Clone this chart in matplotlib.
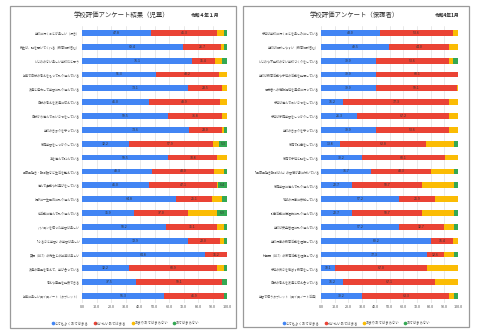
import matplotlib
matplotlib.use("Agg")
import matplotlib.pyplot as plt
from matplotlib.patches import Rectangle
from matplotlib.lines import Line2D

plt.rcParams['font.family'] = ['Noto Sans CJK JP', 'DejaVu Sans']

# ---- 児童 ----
items_child = [
    "学校に行くことが楽しい（好き）",
    "先生は、話を聞いてくれる（教育相談含む）",
    "いじめのない楽しい学校だと思う",
    "授業で自分の考えをもって取り組んでいる",
    "友達と協力して学習に取り組んでいる",
    "自分の考えを友達に伝えている",
    "自分から進んであいさつをしている",
    "学校のきまりを守っている",
    "家庭学習をしっかりしている",
    "本を進んで読んでいる",
    "早寝早起き・朝ご飯など生活を整えている",
    "進んで運動や外遊びをしている",
    "掃除に一生懸命に取り組んでいる",
    "係活動に進んで取り組んでいる",
    "パソコンを使った学習は楽しい",
    "「ふるさと学習」の学習は楽しい",
    "英語（ALT）の先生との授業は楽しい",
    "友達の意見を考えて、学び合っている",
    "考えや意見を発表できる",
    "授業に楽しいロイロノート（タブレット）",
]
child_very = [47.8, 69.4, 76.1, 51.3, 73.1, 46.0, 59.5, 73.6, 32.2, 59.5,
              48.3, 46.0, 64.8, 35.9, 58.2, 72.9, 84.8, 32.2, 37.5, 56.3]
child_mostly = [45.3, 26.7, 15.4, 43.2, 23.5, 48.9, 36.8, 23.0, 57.9, 33.8,
                43.0, 47.1, 25.1, 37.0, 35.1, 22.0, 15.2, 60.9, 59.1, 41.9]
child_little = [5.1, 1.6, 5.1, 5.5, 3.4, 5.1, 3.7, 1.1, 4.6, 6.7,
                6.6, 0.5, 6.7, 20.2, 4.9, 3.3, 0.0, 4.6, 0.0, 0.0]
child_no = [1.8, 2.3, 3.4, 0.0, 0.0, 0.0, 0.0, 2.3, 5.3, 0.0,
            2.1, 6.4, 3.4, 6.9, 1.8, 1.8, 0.0, 2.3, 3.4, 1.8]

# ---- 保護者 ----
items_parent = [
    "子供は学校に行くことを楽しみにしている",
    "学校は相談しやすい（教育相談含む）",
    "いじめや不登校のない学校づくりをしている",
    "学校は教育活動や子供の活動を発信している",
    "保護者への情報提供を適切に行っている",
    "子供は進んであいさつをしている",
    "子供は家庭学習をしっかりしている",
    "学校のきまりを守っている",
    "家庭で読書をしている",
    "家庭で子供と話をしている",
    "「早寝早起き朝ごはん」の習慣が身に付いている",
    "家庭学習に進んで取り組んでいる",
    "地域の行事に参加している",
    "読書活動に積極的に取り組んでいる",
    "学校は安全管理に取り組んでいる",
    "学校行事の教育活動を理解している",
    "外国語（ALT）の教育活動を理解している",
    "子供の良さを伸ばす教育をしている",
    "自分の考えを友達と伝え合っている",
    "学習で使うタブレット（ロイロノート活用）",
]
parent_very = [43.0, 49.5, 39.9, 39.9, 39.9, 16.2, 26.3, 39.9, 13.8, 30.2,
               36.7, 22.7, 57.2, 22.7, 57.2, 80.2, 77.3, 10.1, 16.2, 30.2]
parent_mostly = [53.6, 44.0, 53.6, 60.1, 59.1, 77.3, 67.2, 53.6, 62.8, 60.1,
                 43.3, 50.7, 25.9, 50.7, 32.7, 16.4, 12.6, 67.0, 67.1, 63.3]
parent_little = [3.4, 6.5, 3.1, 0.0, 1.0, 6.5, 6.5, 6.5, 20.5, 9.7,
                 17.1, 23.7, 16.9, 23.7, 7.2, 3.4, 7.2, 22.9, 16.7, 3.6]
parent_no = [0.0, 0.0, 3.4, 0.0, 0.0, 0.0, 0.0, 0.0, 2.9, 0.0,
             2.9, 2.9, 0.0, 2.9, 2.9, 0.0, 2.9, 0.0, 0.0, 2.9]

legend_labels = ["とてもよくあてはまる", "だいたいあてはまる", "あまりあてはまらない", "あてはまらない"]
colors = ["#4285F4", "#EA4335", "#FBBC04", "#34A853"]
x_ticks = [0, 10, 20, 30, 40, 50, 60, 70, 80, 90, 100]

W, H = 480, 334
fig = plt.figure(figsize=(W / 100, H / 100), dpi=100)
fig.patch.set_facecolor("white")


def draw_panel(rect, items, series, title, date, title_x, date_x, legend_x):
    ax = fig.add_axes(rect)
    n = len(items)
    ypos = list(range(n))
    left = [0.0] * n
    for k, (vals, col) in enumerate(zip(series, colors)):
        ax.barh(ypos, vals, left=left, height=0.42, color=col, zorder=3)
        for i, v in enumerate(vals):
            show = k in (0, 1) or (k == 3 and v >= 5)
            if show and v > 0:
                ax.text(left[i] + v / 2, i, f"{v:.1f}", ha="center", va="center",
                        fontsize=2.5, color="#333333", zorder=4)
        left = [a + b for a, b in zip(left, vals)]
    ax.set_xlim(0, 100)
    ax.set_ylim(n - 0.5, -0.5)
    ax.set_yticks(ypos)
    ax.set_yticklabels(items, fontsize=2.2, color="#555555")
    ax.set_xticks(x_ticks)
    ax.set_xticklabels([f"{t:.1f}" for t in x_ticks], fontsize=2.7, color="#444444")
    ax.tick_params(length=0, pad=1.5)
    ax.grid(axis="x", color="#d9d9d9", linewidth=0.4, zorder=0)
    for s in ax.spines.values():
        s.set_visible(False)
    handles = [Line2D([], [], marker="o", linestyle="", markersize=1.6,
                      markerfacecolor=c, markeredgecolor=c) for c in colors]
    ax.legend(handles, legend_labels, loc="upper center", bbox_to_anchor=(legend_x, -0.055),
              ncol=4, frameon=False, fontsize=2.4, handletextpad=0.1,
              columnspacing=1.4, handlelength=0.8, labelcolor="#555555")
    fig.text(title_x / W, 1 - 15 / H, title, ha="center", va="center",
             fontsize=4.6, color="#333333")
    fig.text(date_x / W, 1 - 15 / H, date, ha="center", va="center",
             fontsize=3.4, color="#222222", fontweight="bold")
    return ax


draw_panel([82 / W, 1 - 303 / H, 145 / W, 277 / H], items_child,
           [child_very, child_mostly, child_little, child_no],
           "学校評価アンケート結果（児童）", "令和４年１月", 121, 205, 0.30)
draw_panel([321 / W, 1 - 303 / H, 137 / W, 277 / H], items_parent,
           [parent_very, parent_mostly, parent_little, parent_no],
           "学校評価アンケート（保護者）", "令和4年1月", 354, 447, 0.26)

# panel frames
for (x0, y0, x1, y1) in [(10, 6, 236, 328), (243, 6, 469, 327)]:
    fig.add_artist(Rectangle((x0 / W, 1 - y1 / H), (x1 - x0) / W, (y1 - y0) / H,
                             transform=fig.transFigure, fill=False,
                             edgecolor="#9a9a9a", linewidth=0.9))

fig.savefig("out.png", dpi=100, facecolor="white")
